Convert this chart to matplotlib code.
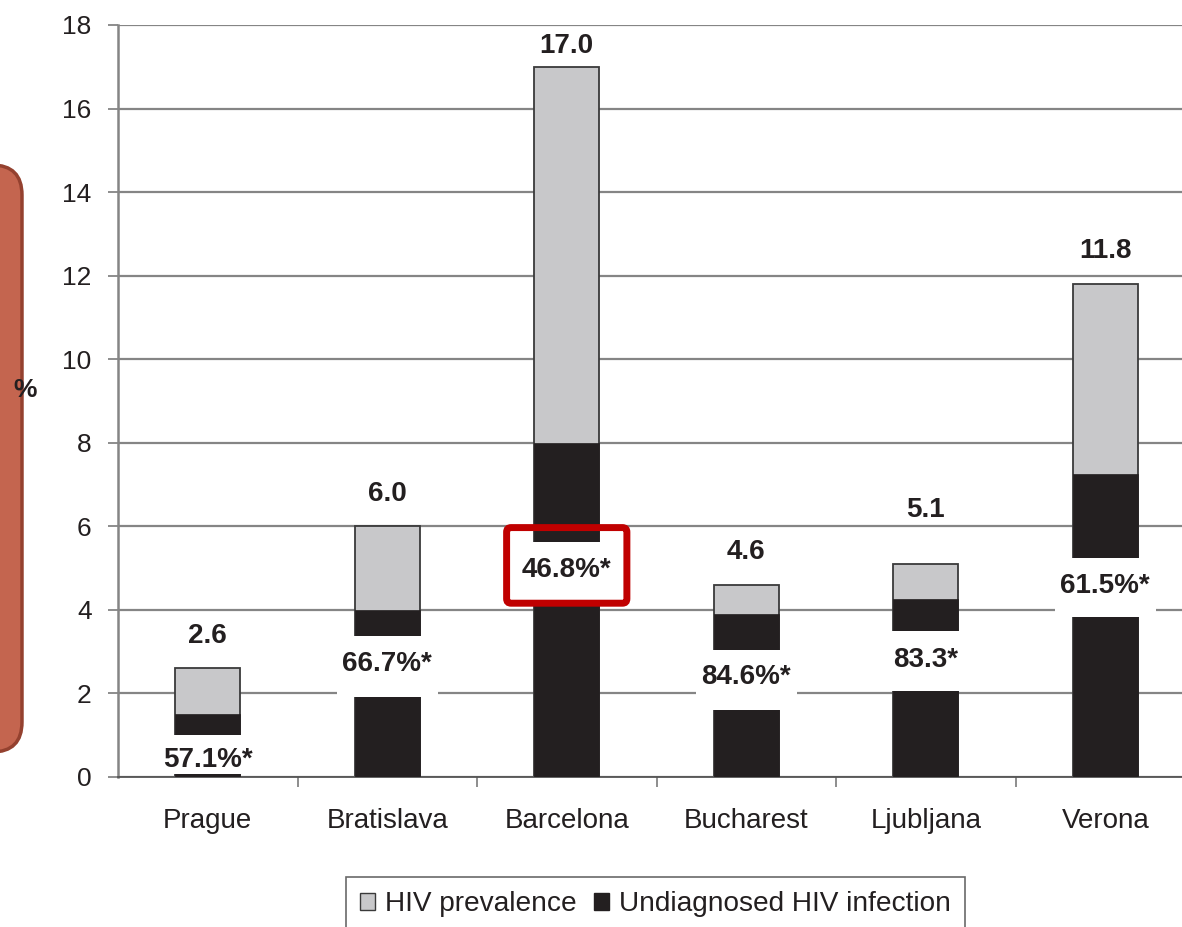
import numpy as np
import matplotlib
matplotlib.use("Agg")
import matplotlib.pyplot as plt
from matplotlib.patches import Patch, Rectangle, FancyBboxPatch

plt.rcParams["font.family"] = ["Liberation Sans", "DejaVu Sans"]

# ---------------------------
# Data
# ---------------------------
cities = ["Prague", "Bratislava", "Barcelona", "Bucharest", "Ljubljana", "Verona"]
prevalence = [2.6, 6.0, 17.0, 4.6, 5.1, 11.8]
undiagnosed = [1.5, 4.0, 8.0, 3.9, 4.25, 7.25]
pct_labels = ["57.1%*", "66.7%*", "46.8%*", "84.6%*", "83.3*", "61.5%*"]

# layout of the white label gaps cut into the black bars (y units)
gap_bottom = [0.08, 1.91, 4.12, 1.60, 2.07, 3.82]
gap_top = [1.00, 3.37, 5.62, 3.04, 3.49, 5.24]
label_y = [0.45, 2.75, 5.01, 2.44, 2.86, 4.62]
top_label_y = [3.42, 6.82, 17.54, 5.43, 6.44, 12.64]

GRAY = "#c8c8ca"
BLACK = "#231f20"
TXT = "#231f20"
GRID = "#858585"

W, H, DPI = 1182, 927, 100
fig = plt.figure(figsize=(W / DPI, H / DPI), dpi=DPI)
ax = fig.add_axes([118 / W, 1 - 777 / H, (6 * 179.5) / W, (777 - 25) / H])

x = np.arange(len(cities))
bw = 0.36

ax.bar(x, prevalence, bw, color=GRAY, edgecolor="#3a3a3a", linewidth=1.3, zorder=2)
ax.bar(x, undiagnosed, bw, color=BLACK, edgecolor=BLACK, linewidth=0.5, zorder=3)

# white gaps holding the percentage labels
for i in range(len(cities)):
    ax.add_patch(Rectangle((x[i] - 0.28, gap_bottom[i]), 0.56,
                           gap_top[i] - gap_bottom[i],
                           facecolor="white", edgecolor="none", zorder=4))
    ax.text(x[i], label_y[i] - 0.05, pct_labels[i], ha="center", va="center",
            fontsize=20, fontweight="bold", color=TXT, zorder=5)
    ax.text(x[i], top_label_y[i] - 0.05, f"{prevalence[i]:.1f}", ha="center",
            va="center", fontsize=20, fontweight="bold", color=TXT, zorder=5)

# red highlight around Barcelona label
ax.add_patch(FancyBboxPatch((x[2] - 0.335, label_y[2] - 0.85), 0.67, 1.81,
                            boxstyle="round,pad=0,rounding_size=0.025",
                            mutation_aspect=4.3, facecolor="none",
                            edgecolor="#c00000", linewidth=5, zorder=6,
                            clip_on=False))

ax.set_xlim(-0.5, 5.5)
ax.set_ylim(0, 18)
ax.set_yticks(np.arange(0, 19, 2))
ax.yaxis.grid(True, color=GRID, linewidth=1.6, zorder=0)
ax.set_axisbelow(True)

ax.set_xticks(x)
ax.set_xticklabels(cities)
ax.set_xticks(np.arange(0.5, 5.5, 1.0), minor=True)
ax.tick_params(axis="x", which="major", length=0, pad=22, labelsize=20,
               labelcolor=TXT)
ax.tick_params(axis="x", which="minor", length=7, width=1.3, color=GRID)
ax.tick_params(axis="y", length=7, width=1.3, color=GRID, pad=12,
               labelsize=19, labelcolor=TXT)

for s in ["top", "right"]:
    ax.spines[s].set_visible(False)
ax.spines["left"].set_color(GRID)
ax.spines["left"].set_linewidth(1.8)
ax.spines["bottom"].set_color("#555555")
ax.spines["bottom"].set_linewidth(1.3)

fig.text(25 / W, 1 - 390 / H, "%", fontsize=19, fontweight="bold",
         color=TXT, ha="center", va="center")

handles = [Patch(facecolor=GRAY, edgecolor="#3a3a3a", linewidth=1.0),
           Patch(facecolor=BLACK, edgecolor=BLACK)]
leg = fig.legend(handles, ["HIV prevalence", "Undiagnosed HIV infection"],
                 loc="upper left", bbox_to_anchor=(346 / W, 1 - 877 / H),
                 ncol=2, fontsize=20.2, frameon=True, fancybox=False,
                 handlelength=0.55, handleheight=0.55, handletextpad=0.35,
                 columnspacing=0.6, borderpad=0.5, borderaxespad=0)
leg.get_frame().set_edgecolor("#444444")
leg.get_frame().set_linewidth(1.2)
for t in leg.get_texts():
    t.set_color(TXT)

# brown rounded box clipped at the left edge
fig.patches.append(FancyBboxPatch((-0.6, 1.75), 0.82, 5.87,
                                  boxstyle="round,pad=0,rounding_size=0.3",
                                  facecolor="#c4654f", edgecolor="#94412f",
                                  linewidth=2.5, transform=fig.dpi_scale_trans,
                                  figure=fig))

fig.savefig("out.png", dpi=DPI)
